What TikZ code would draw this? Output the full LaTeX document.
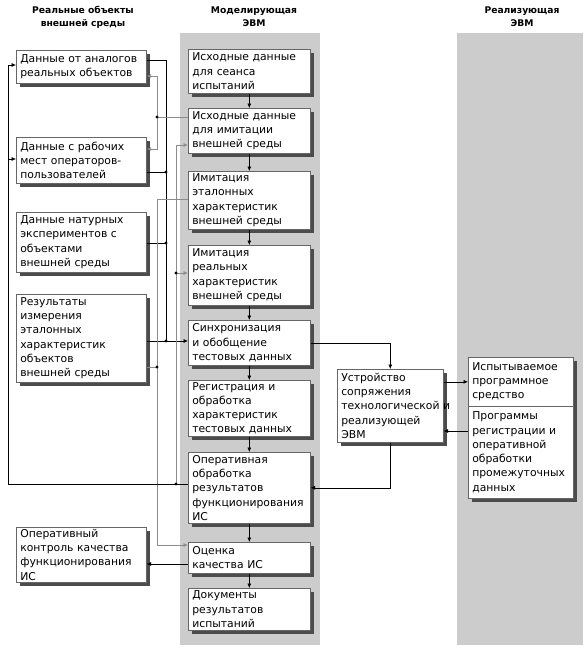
\documentclass[tikz,border=0pt]{standalone}
\usepackage{fontspec}
\setmainfont{DejaVu Sans}
\usetikzlibrary{arrows.meta,shadows}

\tikzset{
  box/.style={draw=black!60, fill=white, anchor=north west, align=left,
    inner xsep=4pt, inner ysep=1pt, font=\fontsize{10.8}{14.3}\selectfont,
    drop shadow={shadow xshift=4pt, shadow yshift=-4pt, fill=black!70, opacity=1}},
  lbox/.style={box, text width=122pt},
  mbox/.style={box, text width=114pt},
  head/.style={align=center, font=\bfseries\fontsize{9.2}{13}\selectfont},
  fb/.style={draw=black!45, line width=0.8pt},
}

\begin{document}
\begin{tikzpicture}
        [x=1pt, y=-1pt, line width=0.6pt, >={Latex[length=4.5pt,width=4pt]}]
        \useasboundingbox (0,0) rectangle (586,648);
        % columns
        \fill[gray!40] (180,33) rectangle (320,645);
        \fill[gray!40] (457,33) rectangle (583,645);
        \node[head] (h1) at (83,17) {Реальные объекты\\внешней среды};
        \node[head] (h2) at (254,17) {Моделирующая\\ЭВМ};
        \node[head] (h3) at (522,17) {Реализующая\\ЭВМ};

        % real objects
        \node[lbox, minimum height=33pt] (L1) at (16,50) {Данные от аналогов\\реальных объектов};
        \node[lbox, minimum height=46pt] (L2) at (16,137) {Данные с рабочих\\мест операторов-\\пользователей};
        \node[lbox, minimum height=60pt] (L3) at (16,212) {Данные натурных\\экспериментов с\\объектами\\внешней среды};
        \node[lbox, minimum height=88pt] (L4) at (16,294) {Результаты\\измерения\\эталонных\\характеристик\\объектов\\внешней среды};
        \node[lbox, minimum height=55pt] (L5) at (16,527) {Оперативный\\контроль качества\\функционирования\\ИС};

        % modelling computer
        \node[mbox, minimum height=44pt] (M1) at (188,49) {Исходные данные\\для сеанса\\испытаний};
        \node[mbox, minimum height=45pt] (M2) at (188,108) {Исходные данные\\для имитации\\внешней среды};
        \node[mbox, minimum height=58pt] (M3) at (188,171) {Имитация\\эталонных\\характеристик\\внешней среды};
        \node[mbox, minimum height=60pt] (M4) at (188,245) {Имитация\\реальных\\характеристик\\внешней среды};
        \node[mbox, minimum height=45pt] (M5) at (188,320) {Синхронизация\\и обобщение\\тестовых данных};
        \node[mbox, minimum height=56pt] (M6) at (188,380) {Регистрация и\\обработка\\характеристик\\тестовых данных};
        \node[mbox, minimum height=71pt] (M7) at (188,452) {Оперативная\\обработка\\результатов\\функционирования\\ИС};
        \node[mbox, minimum height=31pt] (M8) at (188,542) {Оценка\\качества ИС};
        \node[mbox, minimum height=42pt] (M9) at (188,588) {Документы\\результатов\\испытаний};

        % interface and target computer
        \node[box, text width=98pt, minimum height=73pt] (U) at (337,369) {Устройство\\сопряжения\\\mbox{технологической и}\\реализующей\\ЭВМ};
        \node[box, text width=97pt, minimum height=49pt] (Rtop) at (468,357) {Испытываемое\\программное\\средство};
        \node[box, text width=97pt, minimum height=92pt] (Rbot) at (468,406) {Программы\\регистрации и\\оперативной\\обработки\\промежуточных\\данных};

        \draw[->] (M1.south) -- (M2.north);
        \draw[->] (M2.south) -- (M3.north);
        \draw[->] (M3.south) -- (M4.north);
        \draw[->] (M4.south) -- (M5.north);
        \draw[->] (M5.south) -- (M6.north);
        \draw[->] (M6.south) -- (M7.north);
        \draw[->] (M7.south) -- (M8.north);
        \draw[->] (M8.south) -- (M9.north);

        % junctions
        \coordinate (k1) at (166,60);
        \coordinate (k2) at (166,172);
        \coordinate (k3) at (166,243);
        \coordinate (k4) at (166,341);
        \coordinate (p0) at (157,76);
        \coordinate (p1) at (157,117);
        \coordinate (p2) at (157,149);
        \coordinate (q1) at (157,199);
        \coordinate (q2) at (157,367);
        \coordinate (q3) at (157,545);
        \coordinate (r0) at (8,65);
        \coordinate (r1) at (8,159);
        \coordinate (r2) at (8,484);
        \coordinate (s0) at (176,145);
        \coordinate (s1) at (176,273);
        \coordinate (s2) at (176,484);
        \coordinate (t0) at (150,564);
        \coordinate (v0) at (455,431);

        % real data into synchronisation
        \draw (L1.east |- k1) -- (k1) -- (k4);
        \draw (L2.east |- k2) -- (k2);
        \draw (L3.east |- k3) -- (k3);
        \draw[->] (L4.east |- k4) -- (M5.west |- k4);

        % initial data back to the sources
        \draw[fb] (M2.west |- p1) -- (p1);
        \draw[fb, ->] (p1) -- (p0) -- (L1.east |- p0);
        \draw[fb, ->] (p1) -- (p2) -- (L2.east |- p2);

        % etalon and measured values into evaluation
        \draw[fb, ->] (M3.west |- q1) -- (q1) -- (q3) -- (M8.west |- q3);
        \draw[fb] (L4.east |- q2) -- (q2);
        \draw[->] (M8.west |- t0) -- (L5.east |- t0);

        % feedback of operative processing
        \draw[->] (M7.west |- r2) -- (r2) -- (r0) -- (L1.west |- r0);
        \draw[->] (r1) -- (L2.west |- r1);
        \draw[fb, ->] (s2) -- (s0) -- (M2.west |- s0);
        \draw[fb, ->] (s1) -- (M4.west |- s1);

        % target computer loop
        \draw[->] (M5.east) -| (U.north);
        \draw[->] (U.east |- Rtop.west) -- (Rtop.west);
        \draw[->] (Rbot.west |- v0) -- (U.east |- v0);
        \draw[->] (U.south) |- (M7.east);

        \foreach \j in {k2,k3,k4,p1,q2,s1,s2}
            \fill (\j) circle (1.6pt);
    \end{tikzpicture}
\end{document}
